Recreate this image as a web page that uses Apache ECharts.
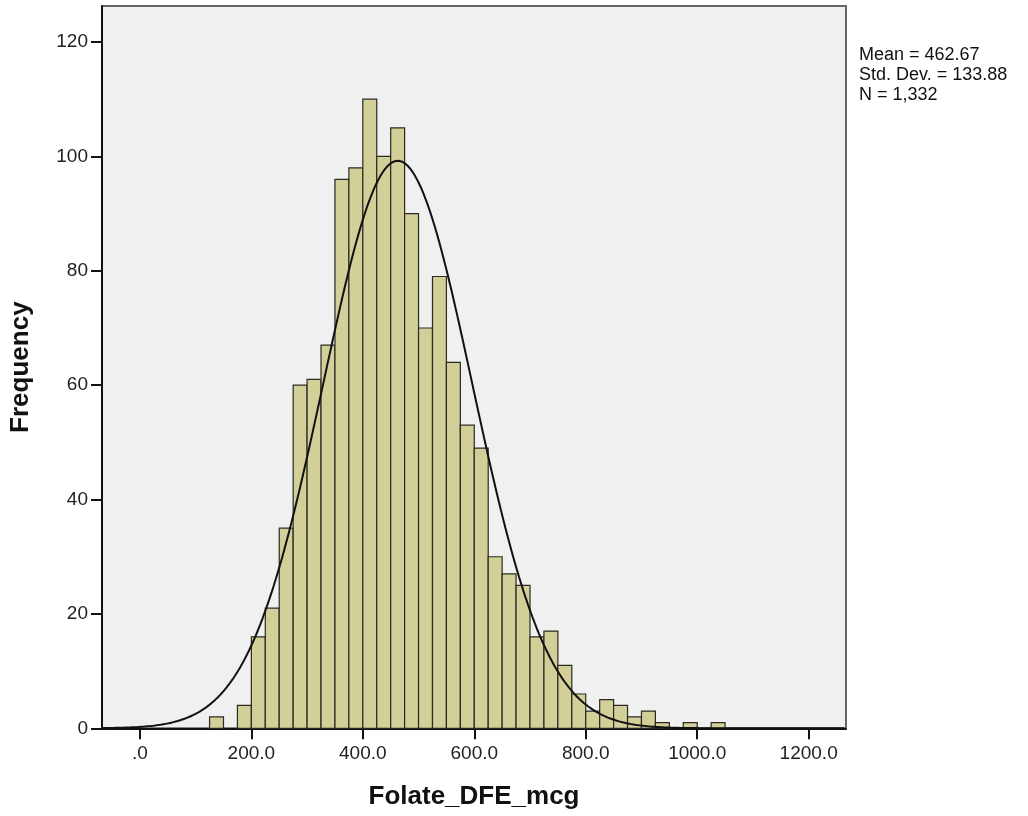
<!DOCTYPE html>
<html>
<head>
<meta charset="utf-8">
<script src="https://cdn.jsdelivr.net/npm/echarts@6/dist/echarts.min.js"></script>
<style>
  html, body { margin: 0; padding: 0; background: #fff; }
  #main { width: 1028px; height: 816px; }
</style>
</head>
<body>
<div id="main"></div>
<script>
// histogram bins: width 25, first bin starts at 125
const binStart = 125
const binWidth = 25
const counts = [2, 0, 4, 16, 21, 35, 60, 61, 67, 96, 98, 110, 100, 105, 90, 70, 79, 64, 53, 49,
  30, 27, 25, 16, 17, 11, 6, 3, 5, 4, 2, 3, 1, 0, 1, 0, 1]

// summary stats shown on the chart
const mean = 462.67
const stdDev = 133.88
const n = 1332

const xTicks = [0, 200, 400, 600, 800, 1000, 1200]
const yTicks = [0, 20, 40, 60, 80, 100, 120]
const xMin = -68
const xMax = 1267
const yMax = 126.3

const font = "'Liberation Sans', Arial, sans-serif"

// bars as [lower, upper, count]
let bars = []
for (let i = 0; i < counts.length; i++) {
  if (counts[i] > 0) {
    let lo = binStart + i * binWidth
    bars.push([lo, lo + binWidth, counts[i]])
  }
}

// fitted normal curve (scaled to counts per bin)
let curve = []
for (let x = xMin; x <= xMax; x += 4) {
  let z = (x - mean) / stdDev
  let y = n * binWidth / (stdDev * Math.sqrt(2 * Math.PI)) * Math.exp(-0.5 * z * z)
  curve.push([x, y])
}

let myChart = echarts.init(document.getElementById('main'))
let option = {
  backgroundColor: '#ffffff',
  animation: false,
  grid: {
    left: 101,
    top: 6,
    width: 745,
    height: 722.3,
    show: true,
    backgroundColor: '#f0f0f0',
    borderColor: '#666',
    borderWidth: 2
  },
  xAxis: {
    type: 'value',
    min: xMin,
    max: xMax,
    name: 'Folate_DFE_mcg',
    nameLocation: 'middle',
    nameGap: 56,
    nameTextStyle: { fontFamily: font, fontSize: 26, fontWeight: 'bold', color: '#111' },
    axisLine: { show: true, onZero: false, lineStyle: { color: '#111', width: 2 } },
    axisTick: { show: true, length: 11, customValues: xTicks, lineStyle: { color: '#111', width: 2 } },
    axisLabel: {
      customValues: xTicks,
      margin: 16,
      fontFamily: font,
      fontSize: 19,
      color: '#222',
      formatter: function (v) { return v === 0 ? '.0' : v.toFixed(1) }
    },
    splitLine: { show: false }
  },
  yAxis: {
    type: 'value',
    min: 0,
    max: yMax,
    name: 'Frequency',
    nameLocation: 'middle',
    nameGap: 68,
    nameTextStyle: { fontFamily: font, fontSize: 26, fontWeight: 'bold', color: '#111' },
    axisLine: { show: true, onZero: false, lineStyle: { color: '#111', width: 2 } },
    axisTick: { show: true, length: 11, customValues: yTicks, lineStyle: { color: '#111', width: 2 } },
    axisLabel: {
      customValues: yTicks,
      margin: 14,
      fontFamily: font,
      fontSize: 19,
      color: '#222'
    },
    splitLine: { show: false }
  },
  graphic: [
    {
      type: 'text',
      left: 859,
      top: 45,
      style: {
        text: 'Mean = ' + mean.toFixed(2) + '\nStd. Dev. = ' + stdDev.toFixed(2) + '\nN = 1,332',
        font: '18px ' + font,
        lineHeight: 20,
        fill: '#111'
      }
    }
  ],
  series: [
    {
      type: 'custom',
      data: bars,
      z: 2,
      renderItem: function (params, api) {
        let p0 = api.coord([api.value(0), api.value(2)])
        let p1 = api.coord([api.value(1), 0])
        return {
          type: 'rect',
          shape: { x: p0[0], y: p0[1], width: p1[0] - p0[0], height: p1[1] - p0[1] },
          style: { fill: '#d3cf98', stroke: '#2a2a22', lineWidth: 1.2 }
        }
      }
    },
    {
      type: 'line',
      data: curve,
      z: 3,
      showSymbol: false,
      smooth: false,
      lineStyle: { color: '#111', width: 2 }
    }
  ]
}
myChart.setOption(option)
</script>
</body>
</html>
